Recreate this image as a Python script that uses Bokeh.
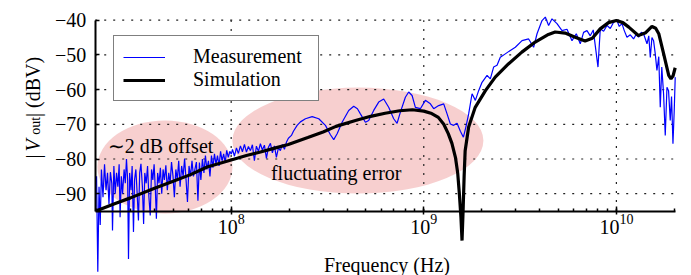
import math
from bokeh.plotting import figure
from bokeh.models import Range1d, FixedTicker, CustomJSTickFormatter, Label
from bokeh.embed import file_html
from bokeh.resources import INLINE

FONT = "Liberation Serif"

# ---------------- data ----------------
y_ticks = [-90, -80, -70, -60, -50, -40]
x_decades = [1e8, 1e9, 1e10]

# simulation (frequency in MHz, level in dBV)
sim_f_mhz = [20, 25, 30, 40, 50, 61.5, 75, 100, 120, 142, 170, 198, 250, 300, 350, 442,
             530, 630, 750, 873, 1000, 1100, 1190, 1270, 1340, 1400, 1460, 1500, 1530,
             1560, 1580, 1600, 1620, 1640, 1710, 1850, 2090, 2350, 2750, 3230, 3790,
             4440, 4810, 5420, 6110, 6880, 7500, 8240, 9100, 10000, 10800, 11600, 13000,
             14200, 15300, 16000, 16600, 17600, 18700, 19200, 19700, 20200]
sim_dbv = [-94.9, -92.8, -91.2, -88.4, -86.4, -84.5, -82.3, -80.3, -79.0, -78.0, -76.8,
           -75.8, -73.8, -72.2, -70.6, -68.9, -67.7, -66.8, -66.1, -65.8, -66.2, -66.9,
           -68.0, -70.0, -72.7, -75.5, -79.5, -84.0, -90.0, -97.0, -103.5, -95.0, -85.0,
           -77.6, -70.8, -65.1, -60.3, -56.4, -52.6, -49.2, -46.3, -44.1, -43.4, -43.7,
           -44.9, -46.0, -45.2, -42.5, -40.7, -40.1, -40.7, -42.0, -44.4, -43.6, -41.8,
           -42.3, -43.9, -49.7, -55.9, -56.9, -56.0, -53.7]

meas_band_low = [
    (20.0, -85), (20.3, -112.5), (20.6, -88), (20.9, -99), (21.2, -83), (21.6, -91),
    (22.0, -81.5), (22.4, -89), (22.8, -84), (23.2, -93), (23.6, -83.8), (24.0, -87),
    (24.2, -100.6), (24.6, -82), (25.0, -90), (25.4, -84), (25.8, -88), (26.2, -81.5),
    (26.5, -96.8), (26.9, -85), (27.3, -90), (27.8, -83), (28.2, -87), (28.6, -80),
    (29.0, -86), (29.3, -108.8), (29.7, -84), (30.2, -89), (30.6, -82), (31.1, -101),
    (31.5, -86), (32.0, -83), (32.5, -90), (33.0, -97.7), (33.5, -84), (34.0, -81.4),
    (34.6, -88), (35.1, -98.7), (35.6, -84), (36.2, -87), (36.8, -82), (37.4, -91),
    (38.0, -96.3), (38.6, -83), (39.2, -86), (39.8, -81.5), (40.4, -89), (40.9, -97.2),
    (41.5, -84), (42.2, -87), (42.9, -82.5), (43.6, -90), (44.3, -83), (45.0, -86),
    (45.8, -81.8), (46.6, -89), (47.4, -84), (48.2, -87), (49.0, -80.9), (49.9, -85),
    (50.7, -91), (51.6, -83), (52.5, -86), (53.4, -80.5), (54.3, -88), (55.3, -82),
    (56.3, -85), (57.3, -79.9), (58.3, -86), (59.3, -92.4), (60.4, -82), (61.5, -85),
    (62.6, -80.5), (63.7, -85), (64.8, -83), (66.0, -80.9), (67.2, -92), (68.4, -81),
    (69.6, -86), (70.9, -80), (72.2, -84), (73.5, -79), (74.8, -83), (76.2, -80.5),
    (77.6, -85), (79.0, -79), (80.4, -82.5), (81.9, -78.5), (83.4, -81.5), (84.9, -79),
    (86.5, -82), (88.1, -77.8), (89.7, -80.5), (91.4, -78.5), (93.1, -81), (94.8, -77.5),
    (96.6, -79.5), (98.4, -77.8),
]
meas_band_mid = [
    (100.2, -78.6), (101.6, -77.2), (104.0, -79.2), (106.5, -76.8), (109.0, -78.4),
    (111.7, -76.2), (114.4, -77.9), (117.2, -75.8), (120.0, -78.0), (122.9, -76.4),
    (125.9, -77.6), (128.9, -75.9), (132.0, -80.5), (135.2, -76.3), (138.5, -77.8),
    (141.8, -75.6), (145.2, -77.4), (148.8, -76.0), (152.4, -79.8), (156.1, -76.6),
    (159.9, -75.5), (163.7, -78.2), (167.7, -76.2), (171.7, -79.5), (175.9, -76.8),
    (180.1, -77.6), (184.5, -75.8), (189.0, -77.2), (193.5, -75.2), (198.2, -74.0),
]
meas_band_ripple = [
    (205.5, -73.2), (210.5, -72.0), (220.0, -70.3), (228.9, -69.3), (243.0, -68.4),
    (263.3, -67.8), (284.9, -68.4), (308.6, -70.3), (327.6, -73.0), (340.8, -74.4),
    (354.9, -72.7), (376.7, -69.4), (407.6, -66.0), (432.7, -64.8), (452.3, -65.5),
    (468.8, -67.0), (497.6, -69.4), (517.7, -68.9), (549.6, -66.0), (583.4, -63.6),
    (619.3, -62.7), (657.4, -65.1), (698.0, -68.4), (726.8, -69.7), (756.1, -66.5),
    (802.6, -62.2), (834.9, -60.7), (869.6, -61.7), (904.5, -65.1), (960.3, -65.5),
    (1019, -63.1), (1082, -64.1), (1126, -65.5), (1195, -64.6), (1269, -64.1),
    (1321, -67.0), (1374, -69.9), (1429, -70.3), (1489, -69.7), (1549, -72.0),
    (1606, -73.7), (1654, -70.8), (1710, -67.0), (1781, -61.2), (1853, -63.1),
]
meas_band_high = [
    (1927, -60.3), (2007, -57.9), (2131, -55.9), (2216, -56.9), (2305, -53.5),
    (2401, -53.0), (2497, -50.7), (2651, -49.7), (2814, -48.7), (2988, -47.8),
    (3237, -45.9), (3503, -45.4), (3718, -47.8), (3873, -43.9), (4111, -40.1),
    (4276, -39.1), (4448, -41.5), (4632, -39.6), (4917, -41.0), (5221, -43.0),
    (5541, -42.6), (5883, -45.9), (6193, -43.9), (6495, -46.8), (6757, -43.5),
    (7037, -43.0), (7319, -44.5), (7587, -42.8), (8026, -53.5), (8249, -42.5),
    (8584, -43.2), (8939, -41.5), (9297, -42.4), (9672, -40.6), (10070, -40.1),
    (10350, -41.8), (10690, -41.0), (10990, -43.0), (11350, -44.9), (11810, -44.2),
    (12280, -45.4), (12690, -44.0), (13040, -44.9), (13470, -43.5), (13840, -43.9),
    (14420, -46.8), (14730, -44.5), (15000, -50.7), (15300, -45.0), (15600, -45.9),
    (15920, -49.7), (16240, -54.5), (16600, -50.5), (16900, -65.1), (17210, -53.5),
    (17580, -61.2), (17940, -73.2), (18310, -59.3), (18660, -60.3), (19040, -68.9),
    (19340, -62.0), (19670, -75.6), (19970, -66.0), (20210, -56.4),
]

meas_all = meas_band_low + meas_band_mid + meas_band_ripple + meas_band_high
meas_f_hz = [f * 1e6 for f, _ in meas_all]
meas_dbv = [v for _, v in meas_all]
sim_f_hz = [f * 1e6 for f in sim_f_mhz]

# ---------------- figure ----------------
# the frame covers the whole canvas; the axes are pinned at fixed data positions
view_x = (6.343e6, 2.455e10)
view_y = (-113.57, -34.32)
axis_x = (1.968e7, 2.02e10)
axis_y = (-95, -40)

p = figure(width=691, height=275, x_axis_type="log",
           x_range=Range1d(*view_x), y_range=Range1d(*view_y),
           output_backend="svg", toolbar_location=None,
           min_border_left=0, min_border_right=0, min_border_top=0, min_border_bottom=0)
p.outline_line_color = None
p.background_fill_color = "white"
p.xgrid.visible = False
p.ygrid.visible = False

# highlight ellipses (underneath the curves)
p.ellipse(x=[4.53e7], y=[-82.3], width=[135], height=[93],
          width_units="screen", height_units="screen",
          fill_color="#f0a0a0", fill_alpha=0.5, line_color=None)
p.ellipse(x=[4.55e8], y=[-74.7], width=[251], height=[106],
          width_units="screen", height_units="screen",
          fill_color="#f0a0a0", fill_alpha=0.5, line_color=None)

# dotted grid, limited to the axes' extent
grid_style = dict(line_color="#222222", line_dash="2 7", line_width=1.2)
p.segment(x0=x_decades, x1=x_decades, y0=[axis_y[0]] * len(x_decades),
          y1=[axis_y[1]] * len(x_decades), **grid_style)
p.segment(x0=[axis_x[0]] * len(y_ticks), x1=[axis_x[1]] * len(y_ticks),
          y0=y_ticks, y1=y_ticks, **grid_style)

# curves
p.line(meas_f_hz, meas_dbv, line_color="#0000ff", line_width=1.2, legend_label="Measurement")
p.line(sim_f_hz, sim_dbv, line_color="black", line_width=3.2, legend_label="Simulation")

# axes
xa = p.xaxis[0]
xa.fixed_location = axis_y[0]
xa.bounds = axis_x
xa.axis_line_width = 2
xa.axis_line_color = "black"
xa.major_tick_in = 5
xa.major_tick_out = 3
xa.minor_tick_in = 3
xa.minor_tick_out = 0
xa.major_tick_line_width = 1.5
xa.minor_tick_line_width = 1.5
xa.major_label_text_font = FONT
xa.major_label_text_font_size = "20px"
xa.major_label_text_color = "black"
xa.major_label_standoff = 0

ya = p.yaxis[0]
ya.fixed_location = axis_x[0]
ya.bounds = axis_y
ya.ticker = FixedTicker(ticks=y_ticks)
ya.formatter = CustomJSTickFormatter(code="return (tick < 0 ? '\\u2212' : '') + Math.abs(tick).toFixed(0);")
ya.axis_line_width = 2
ya.axis_line_color = "black"
ya.major_tick_in = 4
ya.major_tick_out = 0
ya.major_tick_line_width = 1.5
ya.minor_tick_line_color = None
ya.major_label_text_font = FONT
ya.major_label_text_font_size = "20px"
ya.major_label_text_color = "black"
ya.major_label_standoff = 9

# axis titles drawn as labels
p.add_layout(Label(x=6.44e8, y=-110.5, text="Frequency (Hz)", text_font=FONT,
                   text_font_size="20px", text_align="center", text_baseline="alphabetic",
                   text_color="black"))
ylab_parts = [
    ("|", -79.86, "normal", "20px", 0),
    ("V", -77.84, "italic", "20px", 0),
    ("out", -73.0, "normal", "14px", 3),
    ("| (dBV)", -67.9, "normal", "20px", 0),
]
for txt, yy, style, size, drop in ylab_parts:
    p.add_layout(Label(x=view_x[0], y=yy, x_offset=32 + drop, text=txt, angle=math.pi / 2,
                       text_font=FONT, text_font_style=style, text_font_size=size,
                       text_align="left", text_baseline="alphabetic", text_color="black"))

# annotations in the ellipses
p.add_layout(Label(x=4.3e7, y=-76.2, text="\u223c2 dB offset", text_font=FONT,
                   text_font_size="20px", text_align="center", text_baseline="alphabetic",
                   text_color="black"))
p.add_layout(Label(x=3.51e8, y=-84.1, text="fluctuating error", text_font=FONT,
                   text_font_size="20px", text_align="center", text_baseline="alphabetic",
                   text_color="black"))

# legend
lg = p.legend[0]
lg.location = (113, 174)
lg.border_line_color = "black"
lg.border_line_width = 1.5
lg.background_fill_color = "white"
lg.background_fill_alpha = 1.0
lg.label_text_font = FONT
lg.label_text_font_size = "20px"
lg.label_text_color = "black"
lg.glyph_width = 42
lg.label_standoff = 28
lg.label_width = 116
lg.padding = 9
lg.spacing = 0
lg.margin = 0

html = file_html(p, INLINE)
with open("out.html", "w", encoding="utf-8") as fh:
    fh.write(html)
